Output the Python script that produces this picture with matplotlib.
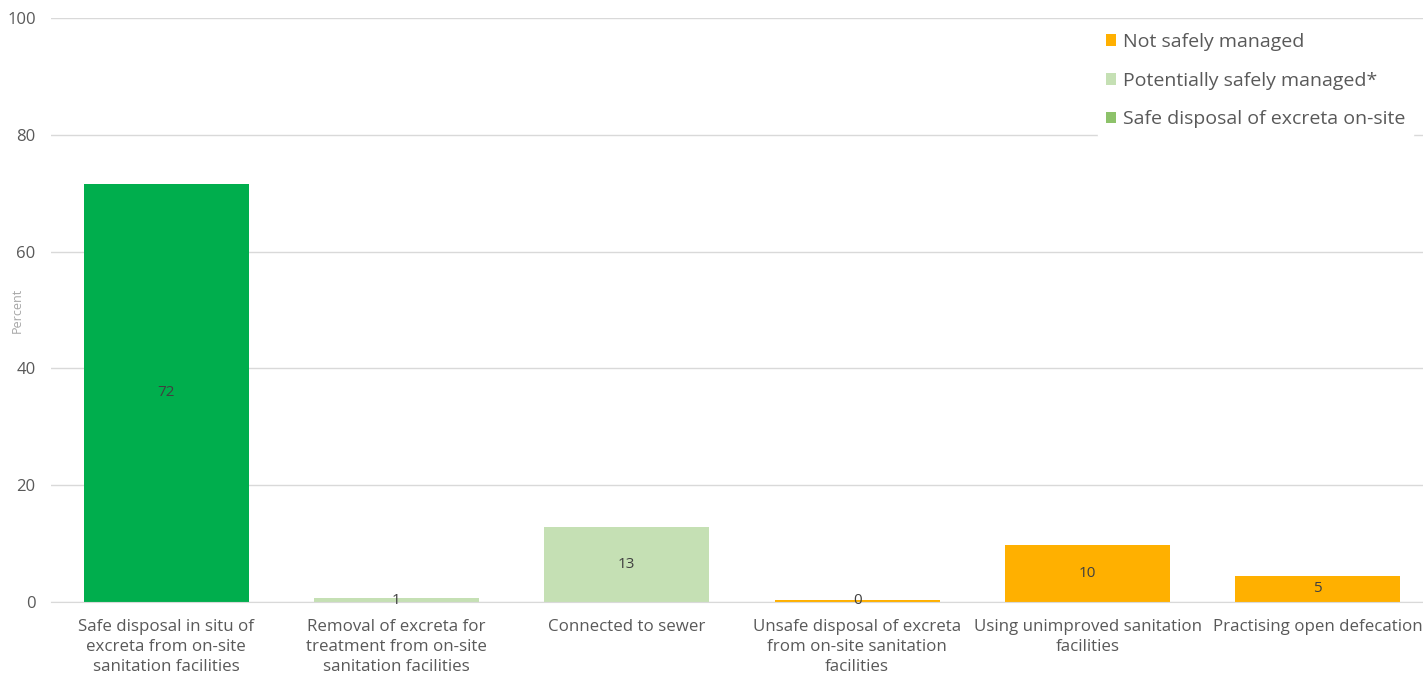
import matplotlib
matplotlib.use("Agg")
import matplotlib.pyplot as plt
from matplotlib.patches import Patch
from matplotlib import font_manager as fm

categories = [
    "Safe disposal in situ of\nexcreta from on-site\nsanitation facilities",
    "Removal of excreta for\ntreatment from on-site\nsanitation facilities",
    "Connected to sewer",
    "Unsafe disposal of excreta\nfrom on-site sanitation\nfacilities",
    "Using unimproved sanitation\nfacilities",
    "Practising open defecation",
]
values = [71.6, 0.6, 12.8, 0.35, 9.8, 4.5]
value_labels = ["72", "1", "13", "0", "10", "5"]
bar_colors = ["#00AE4D", "#C5E0B4", "#C5E0B4", "#FFB000", "#FFB000", "#FFB000"]
legend_labels = ["Not safely managed", "Potentially safely managed*", "Safe disposal of excreta on-site"]
legend_colors = ["#FFB000", "#C5E0B4", "#8DC26A"]
yticks = [0, 20, 40, 60, 80, 100]

names = {f.name for f in fm.fontManager.ttflist}
font = "Liberation Sans Narrow" if "Liberation Sans Narrow" in names else "Open Sans"
plt.rcParams['font.family'] = [font, "DejaVu Sans"]

fig = plt.figure(figsize=(14.23, 6.75), dpi=100)
ax = fig.add_axes([51/1423, 73/675, 1382/1423, (602-18)/675])

x = list(range(len(categories)))
ax.bar(x, values, width=0.716, color=bar_colors, zorder=2)
for xi, v, lab in zip(x, values, value_labels):
    ax.text(xi, v/2, lab, ha="center", va="center", fontsize=11, color="#404040", zorder=3)

ax.set_xlim(-0.5, len(categories) - 0.5)
ax.set_ylim(0, 100)
ax.set_yticks(yticks)
ax.set_xticks(x)
ax.set_xticklabels(categories, fontsize=12.2, color="#595959", linespacing=1.35)
ax.tick_params(axis="y", labelsize=12, labelcolor="#595959", length=0, pad=11)
ax.tick_params(axis="x", length=0, pad=12)
ax.grid(axis="y", color="#D9D9D9", linewidth=1, zorder=0)
for s in ["top", "right", "left"]:
    ax.spines[s].set_visible(False)
ax.spines["bottom"].set_color("#D9D9D9")
ax.set_axisbelow(True)

ax.set_ylabel("Percent", fontsize=9, color="#A6A6A6")
ax.yaxis.set_label_coords(-0.02, 0.5)

handles = [Patch(facecolor=c, edgecolor="none") for c in legend_colors]
leg = ax.legend(handles, legend_labels, loc="upper right", bbox_to_anchor=((1423 - 51) / 1382, 1.004),
                bbox_transform=ax.transAxes,
                frameon=True, fancybox=False, framealpha=1, edgecolor="white",
                fontsize=14, labelcolor="#595959", handlelength=0.55, handleheight=0.55,
                handletextpad=0.35, labelspacing=1.06, borderpad=0.4)
leg.set_zorder(5)

fig.savefig("out.png", dpi=100, facecolor="white")
